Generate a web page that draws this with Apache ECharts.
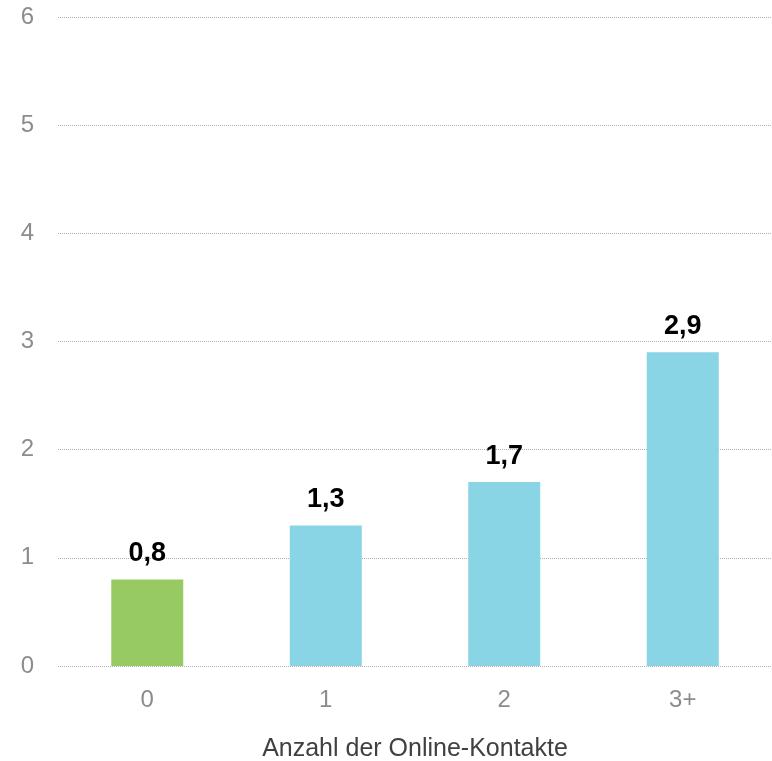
<!DOCTYPE html>
<html><head><meta charset="utf-8">
<script src="https://cdn.jsdelivr.net/npm/echarts@6/dist/echarts.min.js"></script>
<style>html,body{margin:0;padding:0;background:#fff}#c{width:772px;height:761px}</style>
</head><body><div id="c"></div>
<script>
const categories = ['0', '1', '2', '3+'];
const values = [0.8, 1.3, 1.7, 2.9];
const barColors = ['#97CA62', '#89D5E5', '#89D5E5', '#89D5E5'];
const xAxisName = 'Anzahl der Online-Kontakte';

const chart = echarts.init(document.getElementById('c'));
chart.setOption({
  animation: false,
  textStyle: { fontFamily: 'Liberation Sans, Arial, sans-serif' },
  grid: { left: 58, right: 0, top: 17, bottom: 95, containLabel: false, outerBoundsMode: 'none' },
  xAxis: {
    type: 'category', data: categories,
    axisLine: { show: false }, axisTick: { show: false },
    axisLabel: { color: '#8c8c8c', fontSize: 24, margin: 22 },
    name: xAxisName, nameLocation: 'middle', nameGap: 71,
    nameTextStyle: { color: '#404040', fontSize: 25 }
  },
  yAxis: {
    type: 'value', min: 0, max: 6, interval: 1,
    axisLine: { show: false }, axisTick: { show: false },
    axisLabel: { color: '#8c8c8c', fontSize: 24, margin: 24 },
    splitLine: { lineStyle: { color: '#b0b0b0', type: [1, 1], width: 1 } }
  },
  series: [{
    type: 'bar', barWidth: 72,
    data: values.map((v, i) => ({ value: v, itemStyle: { color: barColors[i] } })),
    label: {
      show: true, position: 'top', distance: 12,
      color: '#000', fontSize: 27, fontWeight: 'bold',
      formatter: p => String(p.value).replace('.', ',')
    }
  }]
});
</script></body></html>
